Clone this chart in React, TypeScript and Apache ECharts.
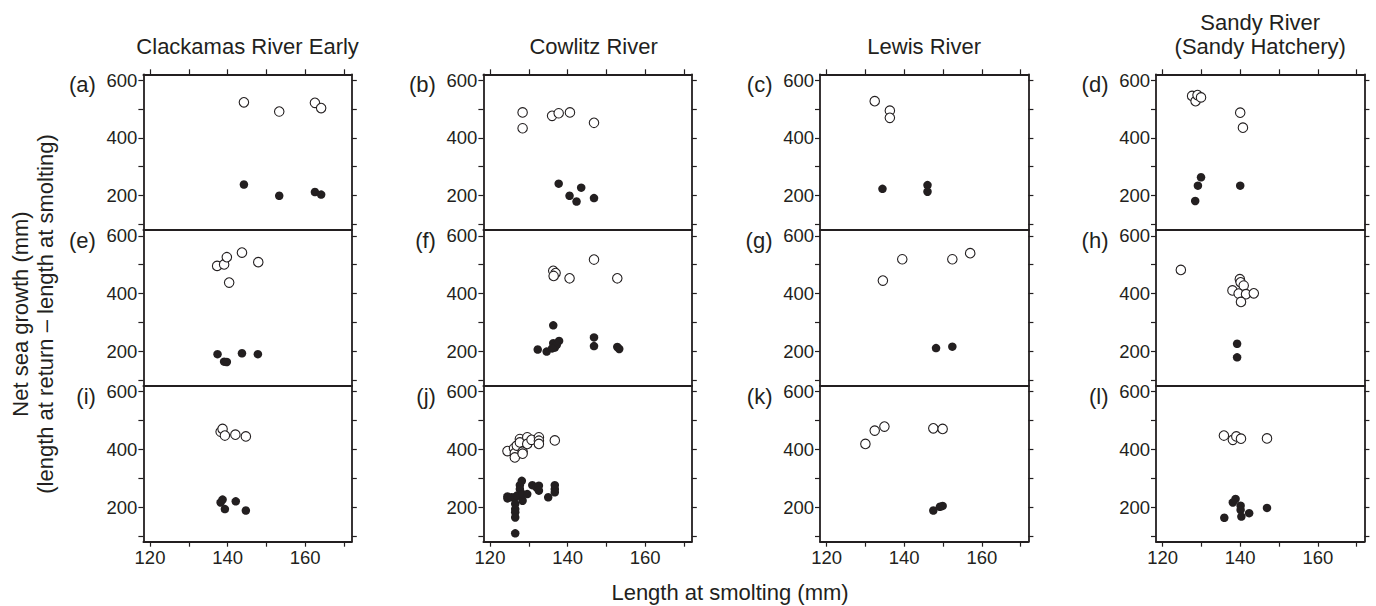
import React, { useEffect, useRef } from "react";
import * as echarts from "echarts";

// ---------- data (length at smolting mm, net sea growth mm) ----------
const columnTitles = ["Clackamas River Early", "Cowlitz River", "Lewis River", "Sandy River\n(Sandy Hatchery)"];
const panelLabels = ["(a)", "(b)", "(c)", "(d)", "(e)", "(f)", "(g)", "(h)", "(i)", "(j)", "(k)", "(l)"];
const xTicks = [120, 130, 140, 150, 160, 170];
const xLabels = [120, 140, 160];
const yTicks = [100, 200, 300, 400, 500, 600];
const yLabels = [200, 400, 600];

const aOpen = [[144.2, 523], [153.3, 491], [162.5, 521], [164.1, 503]];
const aFilled = [[144.2, 238], [153.3, 199], [162.5, 212], [164.1, 203]];
const bOpen = [[128.4, 488], [128.4, 433], [136.0, 476], [137.7, 485], [140.6, 488], [146.8, 452]];
const bFilled = [[137.7, 241], [140.5, 199], [142.3, 179], [143.5, 227], [146.8, 191]];
const cOpen = [[132.4, 527], [136.3, 494], [136.3, 469]];
const cFilled = [[134.4, 223], [146.0, 236], [146.0, 213]];
const dOpen = [[127.6, 545], [128.5, 527], [129.0, 548], [129.9, 540], [140.0, 487], [140.7, 435]];
const dFilled = [[128.4, 181], [129.1, 234], [129.9, 263], [140.0, 234]];

const eOpen = [[137.3, 496], [139.1, 501], [139.8, 526], [140.4, 438], [143.7, 542], [147.9, 509]];
const eFilled = [[137.4, 190], [139.1, 164], [139.8, 163], [143.7, 193], [147.8, 190]];
const fOpen = [[136.3, 479], [136.9, 471], [136.4, 461], [140.5, 453], [146.8, 518], [152.8, 453]];
const fFilled = [[136.3, 290], [132.3, 206], [134.6, 199], [136.3, 228], [136.7, 213], [137.2, 222], [137.8, 236], [136.0, 210], [146.8, 248], [146.8, 218], [152.8, 215], [153.3, 208]];
const gOpen = [[134.5, 445], [139.5, 519], [152.4, 519], [157.0, 540]];
const gFilled = [[148.2, 211], [152.4, 216]];
const hOpen = [[124.7, 482], [139.9, 450], [140.1, 439], [140.9, 428], [138.0, 411], [139.6, 400], [141.5, 398], [143.5, 401], [140.2, 371]];
const hFilled = [[139.2, 226], [139.2, 179]];

const iOpen = [[138.2, 461], [138.7, 471], [139.3, 448], [142.0, 451], [144.7, 445]];
const iFilled = [[138.2, 216], [138.7, 226], [139.3, 193], [142.1, 220], [144.7, 188]];
const jOpen = [[124.5, 394], [126.2, 404], [126.4, 387], [126.4, 372], [126.9, 413], [127.7, 436], [127.7, 424], [128.4, 392], [128.4, 385], [129.6, 442], [129.6, 419], [130.7, 433], [132.6, 442], [132.6, 430], [132.6, 419], [136.7, 431]];
const jFilled = [[124.5, 237], [124.5, 230], [125.6, 234], [126.5, 234], [126.5, 211], [126.5, 193], [126.5, 182], [126.5, 164], [126.5, 109], [127.0, 240], [127.7, 276], [128.2, 291], [127.7, 262], [128.4, 222], [128.4, 245], [129.6, 245], [130.9, 276], [132.0, 268], [132.6, 274], [132.6, 257], [135.0, 234], [136.7, 276], [136.7, 262], [136.7, 251]];
const kOpen = [[130.0, 419], [132.4, 465], [134.9, 479], [147.5, 473], [149.9, 471]];
const kFilled = [[147.5, 188], [149.2, 201], [149.9, 204]];
const lOpen = [[135.8, 448], [138.1, 433], [139.0, 445], [140.2, 437], [146.9, 438]];
const lFilled = [[135.9, 163], [138.1, 216], [138.8, 228], [140.1, 205], [140.1, 190], [140.3, 167], [142.3, 179], [146.9, 197]];

const openSets = [aOpen, bOpen, cOpen, dOpen, eOpen, fOpen, gOpen, hOpen, iOpen, jOpen, kOpen, lOpen];
const filledSets = [aFilled, bFilled, cFilled, dFilled, eFilled, fFilled, gFilled, hFilled, iFilled, jFilled, kFilled, lFilled];

// ---------- layout ----------
const X_MIN = 118.3;
const X_MAX = 172;
const Y_MIN = 80;
const Y_MAX = 620;
const colLeft = [143.4, 483.4, 820, 1156];
const gridW = 208.4;
const rowTop = [74.3, 230.1, 385.9];
const gridH = 155.8;
const INK = "#231f20";
const FONT = "'Liberation Sans', Arial, sans-serif";
const TICK_FS = 18.5;
const TITLE_FS = 22;

function buildOption() {
  const grid: any[] = [];
  const xAxis: any[] = [];
  const yAxis: any[] = [];
  const series: any[] = [];
  const lineStyle = { color: INK, width: 1.8 };
  const tickStyle = { color: INK, width: 1.2 };

  for (let i = 0; i < 12; i++) {
    const r = Math.floor(i / 4);
    const c = i % 4;
    grid.push({ left: colLeft[c], top: rowTop[r], width: gridW, height: gridH, show: false });
    const xi = xAxis.length;
    xAxis.push({
      gridIndex: i, type: "value", min: X_MIN, max: X_MAX, position: "bottom",
      axisLine: { show: true, onZero: false, lineStyle },
      axisTick: { show: r === 2, inside: false, length: 5, customValues: xTicks, lineStyle: tickStyle },
      axisLabel: { show: r === 2, customValues: xLabels, color: INK, fontSize: TICK_FS, fontFamily: FONT, margin: 6 },
      splitLine: { show: false },
    });
    if (r === 0) {
      xAxis.push({
        gridIndex: i, type: "value", min: X_MIN, max: X_MAX, position: "top",
        axisLine: { show: true, onZero: false, lineStyle },
        axisTick: { show: true, inside: false, length: 5, customValues: xTicks, lineStyle: tickStyle },
        axisLabel: { show: false },
        splitLine: { show: false },
      });
    }
    const yi = yAxis.length;
    yAxis.push({
      gridIndex: i, type: "value", min: Y_MIN, max: Y_MAX, position: "left",
      axisLine: { show: true, onZero: false, lineStyle },
      axisTick: { show: true, inside: false, length: 5, customValues: yTicks, lineStyle: tickStyle },
      axisLabel: { show: true, customValues: yLabels, color: INK, fontSize: TICK_FS, fontFamily: FONT, margin: 6 },
      splitLine: { show: false },
    });
    yAxis.push({
      gridIndex: i, type: "value", min: Y_MIN, max: Y_MAX, position: "right",
      axisLine: { show: true, onZero: false, lineStyle },
      axisTick: { show: true, inside: false, length: 5, customValues: yTicks, lineStyle: tickStyle },
      axisLabel: { show: false },
      splitLine: { show: false },
    });
    series.push({
      type: "scatter", xAxisIndex: xi, yAxisIndex: yi, data: filledSets[i],
      symbol: "circle", symbolSize: 8.5, itemStyle: { color: INK, opacity: 1 },
    });
    series.push({
      type: "scatter", xAxisIndex: xi, yAxisIndex: yi, data: openSets[i],
      symbol: "circle", symbolSize: 9.5, itemStyle: { color: "#ffffff", borderColor: INK, borderWidth: 1.1, opacity: 1 },
    });
  }

  const graphic: any[] = [];
  columnTitles.forEach((t, c) => {
    graphic.push({
      type: "text", x: colLeft[c] + gridW / 2 + (c === 1 ? 6 : 0), y: 58,
      style: { text: t, fill: INK, font: `${TITLE_FS}px ${FONT}`, textAlign: "center", textVerticalAlign: "bottom", lineHeight: 24 },
    });
  });
  panelLabels.forEach((t, i) => {
    const r = Math.floor(i / 4);
    const c = i % 4;
    graphic.push({
      type: "text", x: colLeft[c] - 47.5, y: rowTop[r] + 10.5,
      style: { text: t, fill: INK, font: `${TITLE_FS}px ${FONT}`, textAlign: "right", textVerticalAlign: "middle" },
    });
  });
  graphic.push({
    type: "text", x: 730, y: 592,
    style: { text: "Length at smolting (mm)", fill: INK, font: `${TITLE_FS}px ${FONT}`, textAlign: "center", textVerticalAlign: "middle" },
  });
  graphic.push({
    type: "text", x: 20, y: 314, rotation: Math.PI / 2,
    style: { text: "Net sea growth (mm)", fill: INK, font: `${TITLE_FS}px ${FONT}`, textAlign: "center", textVerticalAlign: "middle" },
  });
  graphic.push({
    type: "text", x: 45, y: 314, rotation: Math.PI / 2,
    style: { text: "(length at return \u2013 length at smolting)", fill: INK, font: `${TITLE_FS}px ${FONT}`, textAlign: "center", textVerticalAlign: "middle" },
  });

  return { animation: false, backgroundColor: "#ffffff", grid, xAxis, yAxis, series, graphic };
}

export default function App() {
  const ref = useRef<HTMLDivElement>(null);
  useEffect(() => {
    if (!ref.current) return;
    const chart = echarts.init(ref.current, undefined, { renderer: "svg" });
    chart.setOption(buildOption() as any);
    return () => chart.dispose();
  }, []);
  return (
    <div
      ref={ref}
      style={{ position: "fixed", left: 0, top: 0, width: 1376, height: 606, background: "#ffffff" }}
    />
  );
}
